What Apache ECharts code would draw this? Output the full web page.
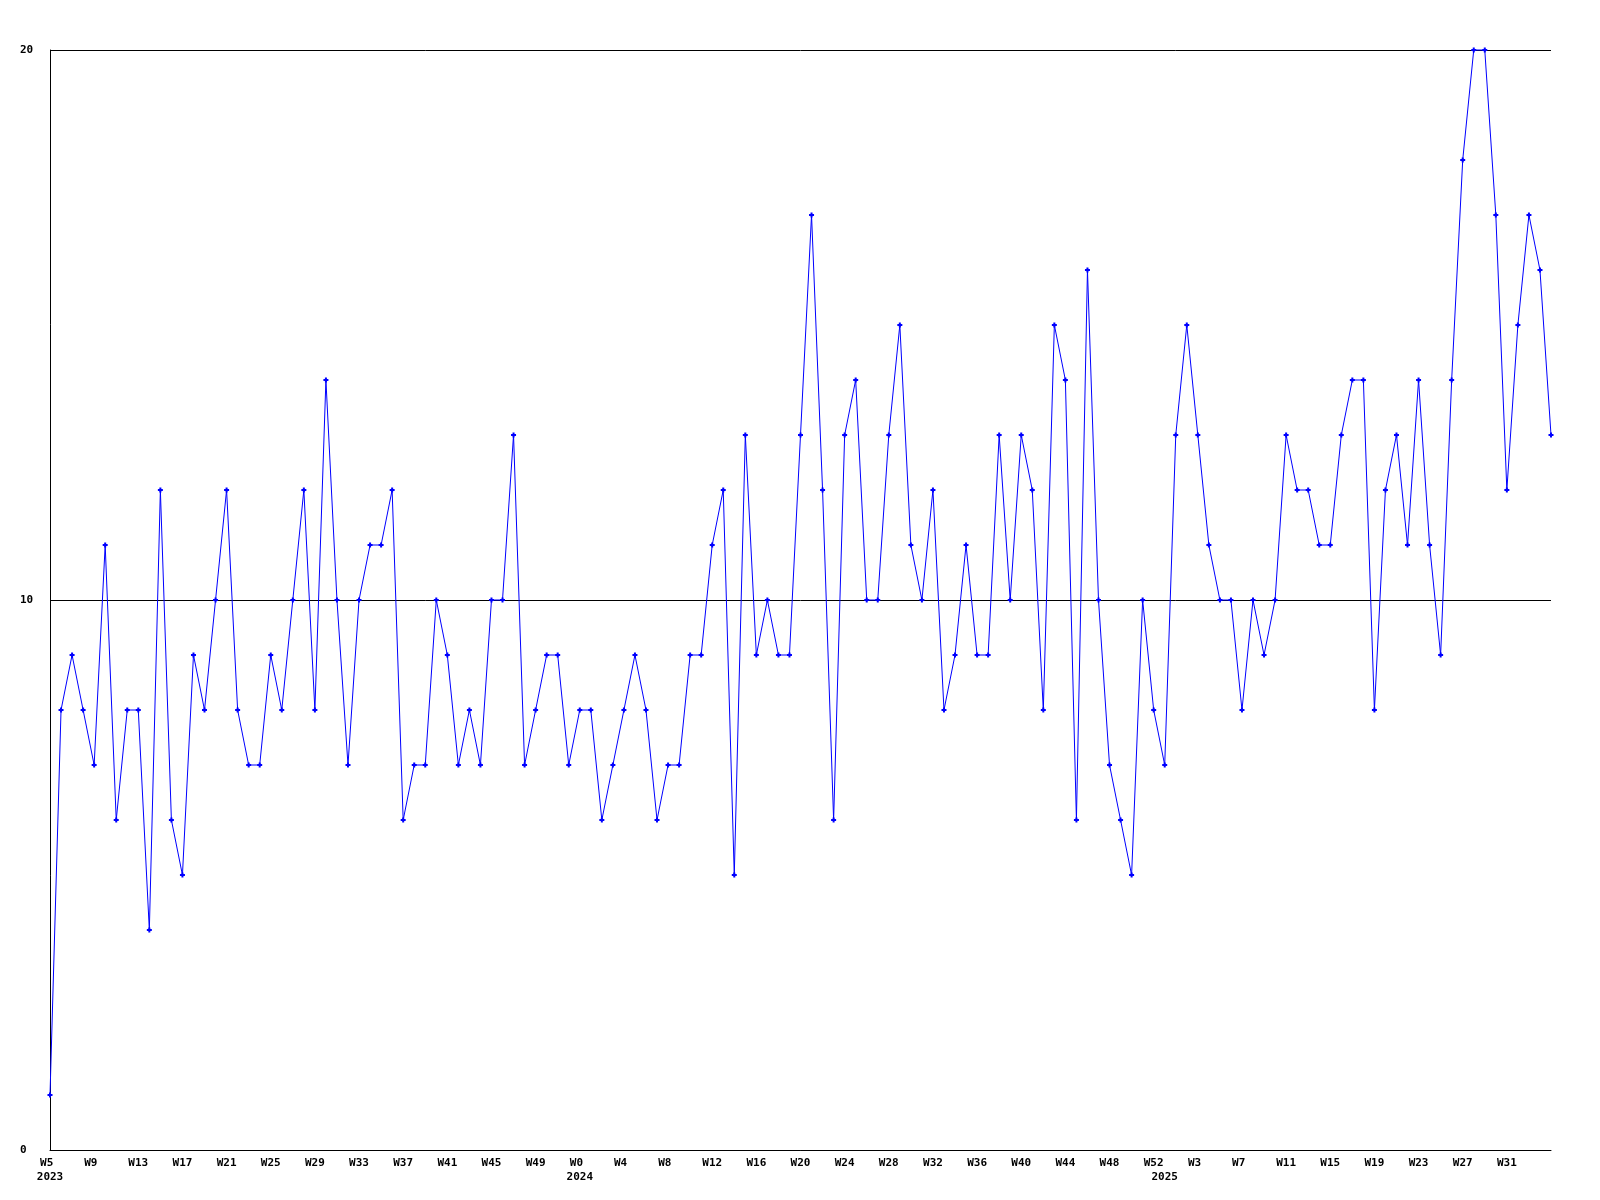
<!DOCTYPE html>
<html>
<head>
<meta charset="utf-8">
<script src="https://cdn.jsdelivr.net/npm/echarts@6/dist/echarts.min.js"></script>
<style>
html,body{margin:0;padding:0;background:#fff;}
#chart{width:1600px;height:1200px;}
</style>
</head>
<body>
<div id="chart"></div>
<script>
// Weekly counts
const years = [2023, 2024, 2025];
const firstWeek = [5, 0, 0];
const lastWeek = [52, 52, 35];

const values2023 = [1,8,9,8,7,11,6,8,8,4,12,6,5,9,8,10,12,8,
                    7,7,9,8,10,12,8,14,10,7,10,11,11,12,6,7,7,
                    10,9,7,8,7,10,10,13,7,8,9,9,7];
const values2024 = [8,8,6,7,
                    8,9,8,6,7,7,9,9,11,12,5,13,9,10,9,9,13,
                    17,12,6,13,14,10,10,13,15,11,10,12,8,9,11,9,9,13,
                    10,13,12,8,15,14,6,16,10,7,6,5,10,8];
const values2025 = [7,13,15,
                    13,11,10,10,8,10,9,10,13,12,12,11,11,13,14,14,8,
                    12,13,11,14,11,9,14,18,20,20,17,12,15,17,16,13];

const yTicks = [0, 10, 20];
const labelEvery = 4;

// Build categories (year, week) and the series
const catYear = [], catWeek = [], categories = [];
years.forEach((y, i) => {
  for (let w = firstWeek[i]; w <= lastWeek[i]; w++) {
    catYear.push(y); catWeek.push(w); categories.push(y + '-W' + w);
  }
});
const values = values2023.concat(values2024, values2025);

function isYearStart(i) { return i === 0 || catYear[i] !== catYear[i - 1]; }
function isWeekTick(i) { return i % labelEvery === 0 && i + labelEvery < categories.length; }

const chart = echarts.init(document.getElementById('chart'), null, {renderer: 'canvas'});
const font = '"DejaVu Sans Mono", "Liberation Mono", monospace';

chart.setOption({
  animation: false,
  backgroundColor: '#ffffff',
  grid: {left: 50, right: 49, top: 50, bottom: 50, outerBoundsMode: 'none'},
  xAxis: {
    type: 'category',
    data: categories,
    boundaryGap: false,
    axisLine: {show: true, lineStyle: {color: '#000', width: 1}},
    axisTick: {show: false},
    splitLine: {show: false},
    axisLabel: {
      interval: function (i) { return isWeekTick(i) || isYearStart(i); },
      hideOverlap: false,
      margin: 6,
      color: '#000',
      fontFamily: font,
      fontWeight: 'bold',
      fontSize: 11,
      lineHeight: 14,
      align: 'center',
      formatter: function (v, i) {
        let first = ' ';
        if (isWeekTick(i)) {
          first = 'W' + catWeek[i];
          while (first.length < 3) first += ' ';
        }
        return isYearStart(i) ? first + '\n' + catYear[i] : first;
      }
    }
  },
  yAxis: {
    type: 'value',
    min: yTicks[0],
    max: yTicks[yTicks.length - 1],
    interval: yTicks[1] - yTicks[0],
    axisLine: {show: true, lineStyle: {color: '#000', width: 1}},
    axisTick: {show: false},
    splitLine: {show: true, lineStyle: {color: '#000', width: 1}},
    axisLabel: {
      margin: 30,
      align: 'left',
      color: '#000',
      fontFamily: font,
      fontWeight: 'bold',
      fontSize: 11
    }
  },
  series: [{
    type: 'line',
    data: values,
    symbol: 'path://M1.5,0H3.5V1.5H5V3.5H3.5V5H1.5V3.5H0V1.5H1.5Z',
    symbolSize: 5,
    showAllSymbol: true,
    clip: false,
    lineStyle: {color: '#0000ff', width: 1},
    itemStyle: {color: '#0000ff', borderWidth: 0},
    emphasis: {disabled: true}
  }]
});
</script>
</body>
</html>
